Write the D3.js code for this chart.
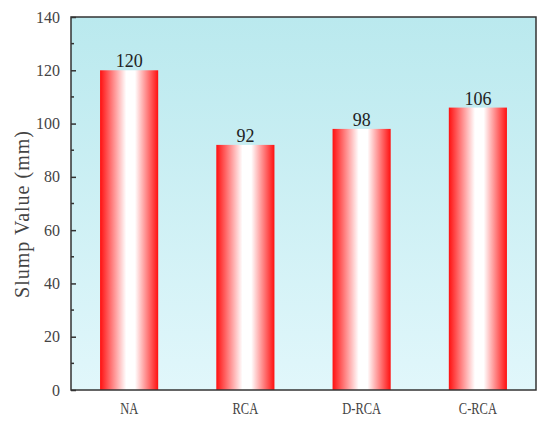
<!DOCTYPE html>
<html>
<head>
<meta charset="utf-8">
<script src="https://cdn.jsdelivr.net/npm/d3@7"></script>
<style>
	body { margin: 0; background: #fff; }
	svg text { fill: #222; }
</style>
</head>
<body>
<div id="chart"></div>
<script>
// data
const categories = ['NA', 'RCA', 'D-RCA', 'C-RCA'];
const slumpValues = [120, 92, 98, 106];
const yTicks = [0, 20, 40, 60, 80, 100, 120, 140];
const yMinorTicks = [10, 30, 50, 70, 90, 110, 130];

const W = 550, H = 427;
const m = { top: 17, right: 14, bottom: 37, left: 71 };
const width = W - m.left - m.right,
	height = H - m.top - m.bottom;

const x = d3.scaleBand().domain(categories).range([0, width]).paddingInner(0.5).paddingOuter(0.25);
const y = d3.scaleLinear().domain([0, 140]).range([height, 0]);

const svg = d3.select('#chart').append('svg')
	.attr('width', W)
	.attr('height', H);

const defs = svg.append('defs');

// background gradient
const bg = defs.append('linearGradient')
	.attr('id', 'bgGrad')
	.attr('x1', 0).attr('y1', 0).attr('x2', 0).attr('y2', 1);
bg.append('stop').attr('offset', '0%').attr('stop-color', '#bae9ee');
bg.append('stop').attr('offset', '100%').attr('stop-color', '#e1f7fb');

// bar gradient
const barGrad = defs.append('linearGradient')
	.attr('id', 'barGrad')
	.attr('x1', 0).attr('y1', 0).attr('x2', 1).attr('y2', 0);
barGrad.append('stop').attr('offset', '0%').attr('stop-color', '#ff1010');
barGrad.append('stop').attr('offset', '45%').attr('stop-color', '#ffffff');
barGrad.append('stop').attr('offset', '60%').attr('stop-color', '#ffffff');
barGrad.append('stop').attr('offset', '100%').attr('stop-color', '#ff1010');

const g = svg.append('g')
	.attr('transform', `translate(${m.left},${m.top})`);

g.append('rect')
	.attr('width', width)
	.attr('height', height)
	.attr('fill', 'url(#bgGrad)');

// bars
g.selectAll('.bar')
	.data(slumpValues)
	.enter()
	.append('rect')
	.attr('class', 'bar')
	.attr('x', (d, i) => x(categories[i]))
	.attr('y', d => y(d))
	.attr('width', x.bandwidth())
	.attr('height', d => height - y(d))
	.attr('fill', 'url(#barGrad)');

// value labels
g.selectAll('.val')
	.data(slumpValues)
	.enter()
	.append('text')
	.attr('class', 'val')
	.attr('x', (d, i) => x(categories[i]) + x.bandwidth() / 2)
	.attr('y', d => y(d) - 3)
	.attr('text-anchor', 'middle')
	.style('font-family', '"Liberation Serif", "Times New Roman", serif')
	.style('font-size', '18px')
	.text(d => d);

// frame
g.append('rect')
	.attr('width', width)
	.attr('height', height)
	.attr('fill', 'none')
	.attr('stroke', '#333')
	.attr('stroke-width', 1.5);

// y axis
const yAxis = d3.axisLeft(y).tickValues(yTicks).tickSize(6).tickPadding(5);
const yG = g.append('g').call(yAxis);
yG.select('.domain').remove();
yG.selectAll('.tick line').attr('stroke', '#333').attr('stroke-width', 1.5).attr('x1', 0).attr('x2', 5);
yG.selectAll('.tick text')
	.attr('x', -11)
	.style('font-family', '"Liberation Serif", "Times New Roman", serif')
	.style('font-size', '16px')
	.style('fill', '#444');

g.selectAll('.minor')
	.data(yMinorTicks)
	.enter()
	.append('line')
	.attr('class', 'minor')
	.attr('x1', 0).attr('x2', 3)
	.attr('y1', d => y(d)).attr('y2', d => y(d))
	.attr('stroke', '#333')
	.attr('stroke-width', 1.5);

// x axis
const xAxis = d3.axisBottom(x).tickSize(0).tickPadding(13);
const xG = g.append('g')
	.attr('transform', `translate(0,${height})`)
	.call(xAxis);
xG.select('.domain').remove();
xG.selectAll('text')
	.style('font-family', '"Liberation Serif", serif')
	.style('font-size', '16px')
	.style('fill', '#444')
	.attr('transform', 'scale(0.78,1)');

// y title
svg.append('text')
	.attr('transform', `translate(29,214) rotate(-90)`)
	.attr('text-anchor', 'middle')
	.style('font-family', '"Liberation Serif", "Times New Roman", serif')
	.style('font-size', '20px')
	.style('letter-spacing', '1px')
	.style('fill', '#444')
	.text('Slump Value (mm)');
</script>
</body>
</html>
